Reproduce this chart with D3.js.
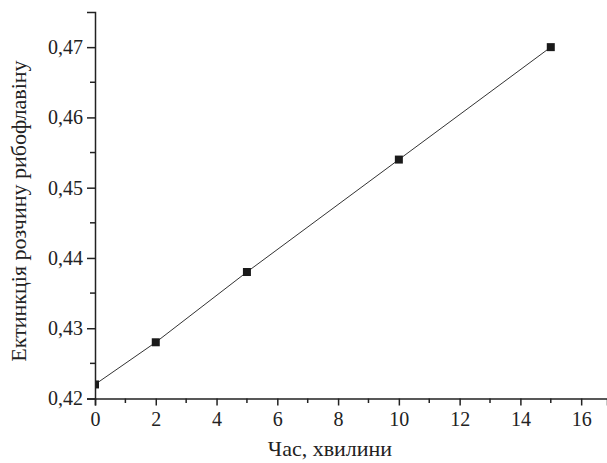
<!DOCTYPE html>
<html>
<head>
<meta charset="utf-8">
<script src="https://cdn.jsdelivr.net/npm/d3@7"></script>
<style>
  body { margin: 0; background: #fff; }
</style>
</head>
<body>
<svg id="chart" width="607" height="463"></svg>
<script>
// time, minutes
const times = [0, 2, 5, 10, 15]
// extinction of riboflavin solution
const extinction = [0.422, 0.428, 0.438, 0.454, 0.470]

const xTicks = [0, 2, 4, 6, 8, 10, 12, 14, 16]
const yTicks = [0.42, 0.43, 0.44, 0.45, 0.46, 0.47]
const xMinor = [1, 3, 5, 7, 9, 11, 13, 15]
const yMinor = [0.425, 0.435, 0.445, 0.455, 0.465]

const xLabel = "Час, хвилини"
const yLabel = "Ектинкція розчину рибофлавіну"

const serif = "Liberation Serif, Times New Roman, Times, DejaVu Serif, serif"

const svg = d3.select("#chart")

const x = d3.scaleLinear()
            .domain([0, 16.85])
            .range([95, 607])

const y = d3.scaleLinear()
            .domain([0.42, 0.475])
            .range([398.5, 12])

const fmt = d => d3.format(".2f")(d).replace(".", ",")

// clip so the marker at x=0 hides behind the axis
svg.append("clipPath")
   .attr("id", "plot")
   .append("rect")
   .attr("x", 95).attr("y", 0)
   .attr("width", 512).attr("height", 398.5)

// data line + markers
const line = d3.line()
               .x((d, i) => x(times[i]))
               .y(d => y(d))

svg.append("path")
   .datum(extinction)
   .attr("fill", "none")
   .attr("stroke", "#333")
   .attr("stroke-width", 1)
   .attr("d", line)

svg.append("g")
   .attr("clip-path", "url(#plot)")
   .selectAll("rect")
   .data(extinction)
   .join("rect")
   .attr("x", (d, i) => x(times[i]) - 4)
   .attr("y", d => y(d) - 4)
   .attr("width", 8)
   .attr("height", 8)
   .attr("fill", "#1a1a1a")

const xAxis = svg.append("g")
   .attr("transform", "translate(0," + y(0.42) + ")")
   .call(d3.axisBottom(x).tickValues(xTicks).tickSize(7).tickPadding(6).tickFormat(d3.format("d")))

xAxis.selectAll("line.minor")
     .data(xMinor)
     .join("line")
     .attr("class", "minor")
     .attr("x1", d => x(d)).attr("x2", d => x(d))
     .attr("y1", 0).attr("y2", 4.5)
     .attr("stroke", "#222").attr("stroke-width", 1.5)

const yAxis = svg.append("g")
   .attr("transform", "translate(" + x(0) + ",0)")
   .call(d3.axisLeft(y).tickValues(yTicks).tickSize(8).tickPadding(4).tickFormat(fmt))

yAxis.selectAll("line.minor")
     .data(yMinor)
     .join("line")
     .attr("class", "minor")
     .attr("y1", d => y(d)).attr("y2", d => y(d))
     .attr("x1", 0).attr("x2", -5)
     .attr("stroke", "#222").attr("stroke-width", 1.5)

svg.selectAll(".domain").attr("stroke", "#222").attr("stroke-width", 1.5)
svg.selectAll(".tick line").attr("stroke", "#222").attr("stroke-width", 1.5)
xAxis.attr("font-family", serif).attr("font-size", 20)
yAxis.attr("font-family", serif).attr("font-size", 20)
svg.selectAll(".tick text").attr("fill", "#222")

// axis titles
svg.append("text")
   .attr("x", 330)
   .attr("y", 456)
   .attr("text-anchor", "middle")
   .attr("font-family", serif)
   .attr("font-size", 22)
   .attr("fill", "#222")
   .text(xLabel)

svg.append("text")
   .attr("transform", "translate(26,211) rotate(-90)")
   .attr("text-anchor", "middle")
   .attr("font-family", serif)
   .attr("font-size", 22)
   .attr("fill", "#222")
   .text(yLabel)
</script>
</body>
</html>
